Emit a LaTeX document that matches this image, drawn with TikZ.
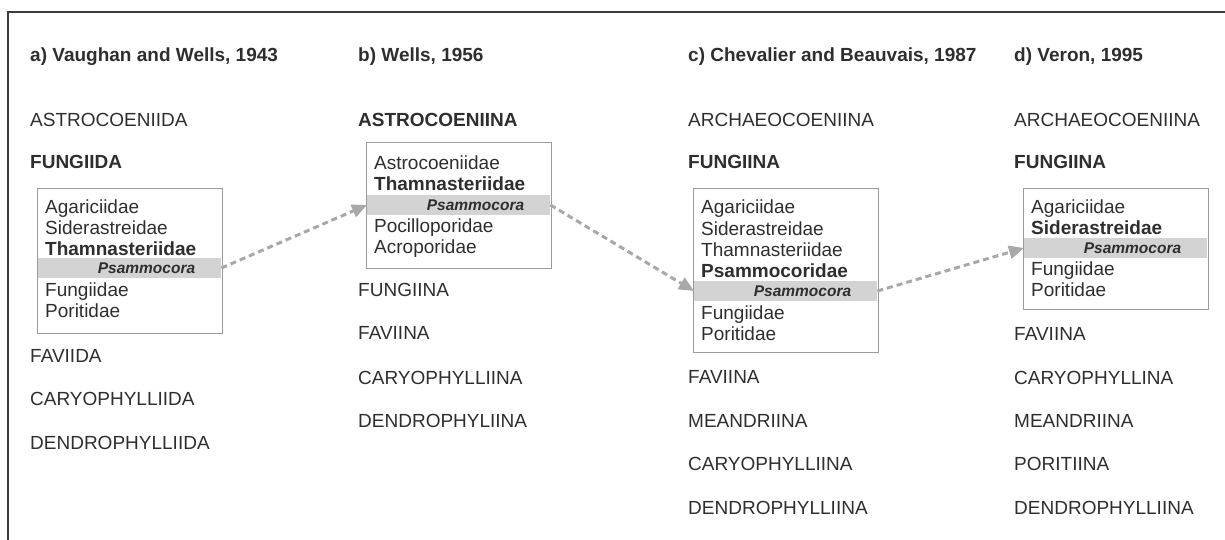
\documentclass[tikz,border=0pt]{standalone}
\usepackage{fontspec}
\setmainfont{Liberation Sans}
\usepackage{tikz}
\usetikzlibrary{arrows.meta,positioning}
\definecolor{inkgrey}{HTML}{2E2E2E}
\definecolor{boxgrey}{HTML}{9C9C9C}
\definecolor{bandgrey}{HTML}{D3D3D3}
\definecolor{arrowgrey}{HTML}{A8A8A8}
\definecolor{framegrey}{HTML}{3C3C3C}
\tikzset{
  taxon/.style={anchor=west, inner sep=0pt, text=inkgrey,
    font=\fontsize{19}{21}\selectfont, text height=13.6pt, text depth=0pt},
  rank/.style={taxon, font=\fontsize{19}{21}\selectfont\bfseries},
  famBox/.style={draw=boxgrey, line width=1.2pt, anchor=north west,
    minimum width=185pt, inner sep=0pt},
  genusBand/.style={fill=bandgrey, anchor=west, minimum height=20pt,
    text width=131pt, inner xsep=26pt, inner ysep=0pt, align=right,
    text=inkgrey, font=\fontsize{15.5}{17}\selectfont\bfseries\itshape},
  moveArrow/.style={arrowgrey, line width=3pt, dash pattern=on 6pt off 4pt,
    -{Triangle[length=15pt,width=13pt]}}
}

\begin{document}
\begin{tikzpicture}[x=1pt,y=-1pt]
\useasboundingbox (0,0) rectangle (1225,540);
\draw[framegrey, line width=1.5pt] (1225,12) -- (8,12) -- (8,540);

% a) Vaughan and Wells
\node[rank] (headA) at (30,55) {a) Vaughan and Wells, 1943};
\node[taxon] (astroA) at (30,120) {ASTROCOENIIDA};
\node[rank] (fungA) at (30,162) {FUNGIIDA};
\node[famBox, minimum height=145pt] (boxA) at (37,188) {};
\node[taxon] (agarA) at (45,207) {Agariciidae};
\node[taxon] (sideA) at (45,228) {Siderastreidae};
\node[rank] (thamA) at (45,249) {Thamnasteriidae};
\node[genusBand] (psamA) at (38,268) {Psammocora};
\node[taxon] (fungiA) at (45,290) {Fungiidae};
\node[taxon] (poriA) at (45,311) {Poritidae};
\node[taxon] (faviA) at (30,356) {FAVIIDA};
\node[taxon] (caryA) at (30,399) {CARYOPHYLLIIDA};
\node[taxon] (dendA) at (30,443) {DENDROPHYLLIIDA};

% b) Wells
\node[rank] (headB) at (358,55) {b) Wells, 1956};
\node[rank] (astroB) at (358,120) {ASTROCOENIINA};
\node[famBox, minimum height=126pt] (boxB) at (366,142) {};
\node[taxon] (astrB) at (374,163) {Astrocoeniidae};
\node[rank] (thamB) at (374,184) {Thamnasteriidae};
\node[genusBand] (psamB) at (367,205) {Psammocora};
\node[taxon] (pociB) at (374,226) {Pocilloporidae};
\node[taxon] (acroB) at (374,247) {Acroporidae};
\node[taxon] (fungB) at (358,290) {FUNGIINA};
\node[taxon] (faviB) at (358,333) {FAVIINA};
\node[taxon] (caryB) at (358,378) {CARYOPHYLLIINA};
\node[taxon] (dendB) at (358,421) {DENDROPHYLIINA};

% c) Chevalier and Beauvais
\node[rank] (headC) at (688,55) {c) Chevalier and Beauvais, 1987};
\node[taxon] (archC) at (688,120) {ARCHAEOCOENIINA};
\node[rank] (fungC) at (688,162) {FUNGIINA};
\node[famBox, minimum height=164pt] (boxC) at (693,188) {};
\node[taxon] (agarC) at (701,207) {Agariciidae};
\node[taxon] (sideC) at (701,229) {Siderastreidae};
\node[taxon] (thamC) at (701,250) {Thamnasteriidae};
\node[rank] (psfaC) at (701,271) {Psammocoridae};
\node[genusBand] (psamC) at (694,291) {Psammocora};
\node[taxon] (fungiC) at (701,313) {Fungiidae};
\node[taxon] (poriC) at (701,334) {Poritidae};
\node[taxon] (faviC) at (688,377) {FAVIINA};
\node[taxon] (meanC) at (688,421) {MEANDRIINA};
\node[taxon] (caryC) at (688,464) {CARYOPHYLLIINA};
\node[taxon] (dendC) at (688,508) {DENDROPHYLLIINA};

% d) Veron
\node[rank] (headD) at (1014,55) {d) Veron, 1995};
\node[taxon] (archD) at (1014,120) {ARCHAEOCOENIINA};
\node[rank] (fungD) at (1014,162) {FUNGIINA};
\node[famBox, minimum height=121pt] (boxD) at (1023,188) {};
\node[taxon] (agarD) at (1031,207) {Agariciidae};
\node[rank] (sideD) at (1031,228) {Siderastreidae};
\node[genusBand] (psamD) at (1024,248) {Psammocora};
\node[taxon] (fungiD) at (1031,269) {Fungiidae};
\node[taxon] (poriD) at (1031,290) {Poritidae};
\node[taxon] (faviD) at (1014,334) {FAVIINA};
\node[taxon] (caryD) at (1014,378) {CARYOPHYLLINA};
\node[taxon] (meanD) at (1014,421) {MEANDRIINA};
\node[taxon] (poriiD) at (1014,464) {PORITIINA};
\node[taxon] (dendD) at (1014,508) {DENDROPHYLLIINA};

\draw[moveArrow] (psamA.east) -- (psamB.west);
\draw[moveArrow] (psamB.east) -- (psamC.west);
\draw[moveArrow] (psamC.east) -- (psamD.west);
\end{tikzpicture}
\end{document}
